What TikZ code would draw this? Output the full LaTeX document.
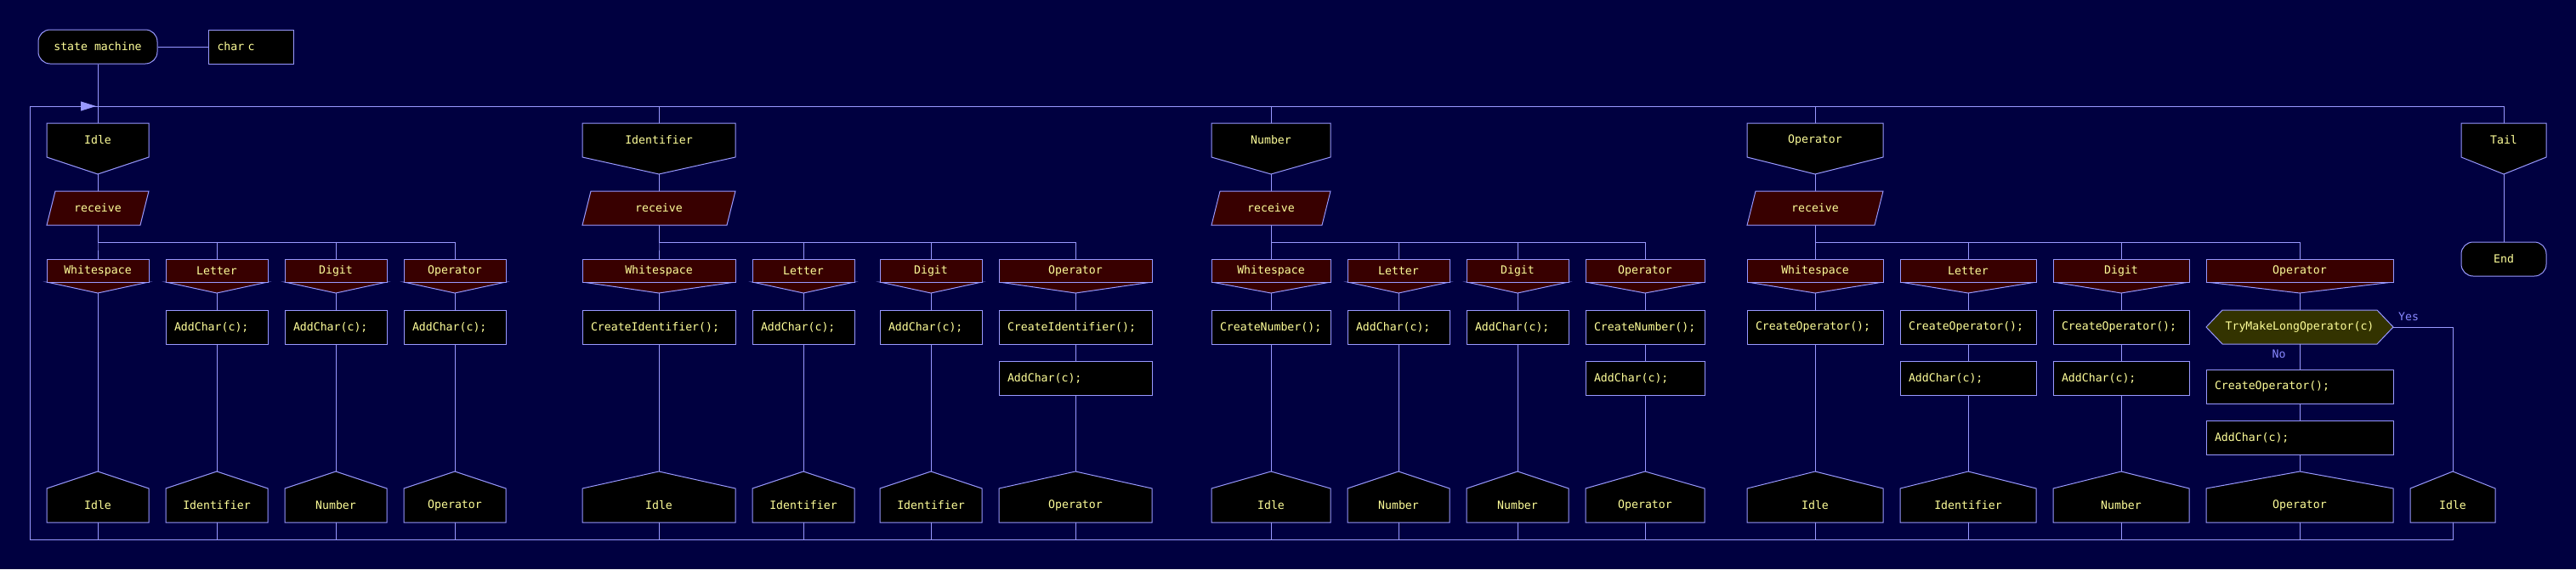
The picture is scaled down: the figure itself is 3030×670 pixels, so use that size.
\documentclass[tikz,border=0pt]{standalone}
\usepackage{fontspec}
\setmonofont{DejaVu Sans Mono}
\usetikzlibrary{calc,arrows.meta}
\definecolor{bgc}{HTML}{000040}
\definecolor{lnc}{HTML}{9999FF}
\definecolor{txc}{HTML}{FFFF99}
\definecolor{casec}{HTML}{380000}
\definecolor{hexc}{HTML}{333300}
\definecolor{lblc}{HTML}{8888FF}
\tikzset{
  conn/.style={draw=lnc, line width=1pt},
  shp/.style={draw=lnc, line width=1pt, fill=black},
  cshp/.style={draw=lnc, line width=1pt, fill=casec},
  hshp/.style={draw=lnc, line width=1pt, fill=hexc},
  txt/.style={font=\ttfamily\fontsize{13.2}{16}\selectfont, text=txc, inner sep=0pt, minimum height=40pt, anchor=center},
  actbox/.style={txt, draw=lnc, line width=1pt, fill=black, inner xsep=10pt, align=left},
  term/.style={txt, draw=lnc, line width=1pt, fill=black, rounded corners=14pt},
  lbl/.style={font=\ttfamily\fontsize{13.2}{16}\selectfont, text=lblc, inner sep=0pt},
}
\newcommand\StHead[4]{%
  \filldraw[shp] (#2-#3/2,145) -- (#2+#3/2,145) -- (#2+#3/2,185) -- (#2,205) -- (#2-#3/2,185) -- cycle;
  \node[txt, minimum width=#3] (#1) at (#2,165) {#4};
  \coordinate (#1-tip) at (#2,205);}
\newcommand\Recv[3]{%
  \filldraw[cshp] (#2-#3/2+10,225) -- (#2+#3/2,225) -- (#2+#3/2-10,265) -- (#2-#3/2,265) -- cycle;
  \node[txt, minimum width=#3] (#1) at (#2,245) {receive};}
\newcommand\Case[4]{%
  \filldraw[cshp] (#2-#3/2,332) -- (#2,345) -- (#2+#3/2,332) -- cycle;
  \filldraw[cshp] (#2-#3/2,305) rectangle (#2+#3/2,332);
  \node[txt, minimum width=#3, minimum height=27] (#1) at (#2,318.5) {#4};
  \coordinate (#1-tip) at (#2,345);}
\newcommand\Act[5]{%
  \pgfmathsetmacro\acttw{#4-20}%
  \node[actbox, text width=\acttw pt] (#1) at (#2,#3+20) {#5};}
\newcommand\StFoot[4]{%
  \filldraw[shp] (#2-#3/2,615) -- (#2-#3/2,575) -- (#2,555) -- (#2+#3/2,575) -- (#2+#3/2,615) -- cycle;
  \node[txt, minimum width=#3] (#1) at (#2,595) {#4};
  \coordinate (#1-tip) at (#2,555);}
\begin{document}
\begin{tikzpicture}[x=1pt, y=-1pt]
\useasboundingbox (0,0) rectangle (3030,670);
\fill[bgc] (0,0) rectangle (3030,670);
\coordinate (loopTL) at (35,125);
\coordinate (loopBL) at (35,635);
\coordinate (loopTR) at (2945,125);
% top
\node[term, minimum width=140] (sm) at (115,55) {state machine};
\node[actbox, text width=80pt] (cc) at (295.5,55) {char c};
% group Idle
\StHead{hI}{115}{120}{Idle}
\Recv{rI}{115}{120}
\Case{cI1}{115}{120}{Whitespace}
\Case{cI2}{255}{120}{Letter}
\Case{cI3}{395}{120}{Digit}
\Case{cI4}{535}{120}{Operator}
\Act{aI2}{255}{365}{120}{AddChar(c);}
\Act{aI3}{395}{365}{120}{AddChar(c);}
\Act{aI4}{535}{365}{120}{AddChar(c);}
\StFoot{fI1}{115}{120}{Idle}
\StFoot{fI2}{255}{120}{Identifier}
\StFoot{fI3}{395}{120}{Number}
\StFoot{fI4}{535}{120}{Operator}
% group Identifier
\StHead{hD}{775}{180}{Identifier}
\Recv{rD}{775}{180}
\Case{cD1}{775}{180}{Whitespace}
\Case{cD2}{945}{120}{Letter}
\Case{cD3}{1095}{120}{Digit}
\Case{cD4}{1265}{180}{Operator}
\Act{aD1}{775}{365}{180}{CreateIdentifier();}
\Act{aD2}{945}{365}{120}{AddChar(c);}
\Act{aD3}{1095}{365}{120}{AddChar(c);}
\Act{aD4}{1265}{365}{180}{CreateIdentifier();}
\Act{aD4b}{1265}{425}{180}{AddChar(c);}
\StFoot{fD1}{775}{180}{Idle}
\StFoot{fD2}{945}{120}{Identifier}
\StFoot{fD3}{1095}{120}{Identifier}
\StFoot{fD4}{1265}{180}{Operator}
% group Number
\StHead{hN}{1495}{140}{Number}
\Recv{rN}{1495}{140}
\Case{cN1}{1495}{140}{Whitespace}
\Case{cN2}{1645}{120}{Letter}
\Case{cN3}{1785}{120}{Digit}
\Case{cN4}{1935}{140}{Operator}
\Act{aN1}{1495}{365}{140}{CreateNumber();}
\Act{aN2}{1645}{365}{120}{AddChar(c);}
\Act{aN3}{1785}{365}{120}{AddChar(c);}
\Act{aN4}{1935}{365}{140}{CreateNumber();}
\Act{aN4b}{1935}{425}{140}{AddChar(c);}
\StFoot{fN1}{1495}{140}{Idle}
\StFoot{fN2}{1645}{120}{Number}
\StFoot{fN3}{1785}{120}{Number}
\StFoot{fN4}{1935}{140}{Operator}
% group Operator
\StHead{hO}{2135}{160}{Operator}
\Recv{rO}{2135}{160}
\Case{cO1}{2135}{160}{Whitespace}
\Case{cO2}{2315}{160}{Letter}
\Case{cO3}{2495}{160}{Digit}
\Case{cO4}{2705}{220}{Operator}
\Act{aO1}{2135}{365}{160}{CreateOperator();}
\Act{aO2}{2315}{365}{160}{CreateOperator();}
\Act{aO2b}{2315}{425}{160}{AddChar(c);}
\Act{aO3}{2495}{365}{160}{CreateOperator();}
\Act{aO3b}{2495}{425}{160}{AddChar(c);}
\filldraw[hshp] (2595,385) -- (2614,365) -- (2796,365) -- (2815,385) -- (2796,405) -- (2614,405) -- cycle;
\node[txt, minimum width=220] (hx) at (2705,385) {TryMakeLongOperator(c)};
\Act{aO4}{2705}{435}{220}{CreateOperator();}
\Act{aO4b}{2705}{495}{220}{AddChar(c);}
\StFoot{fO1}{2135}{160}{Idle}
\StFoot{fO2}{2315}{160}{Identifier}
\StFoot{fO3}{2495}{160}{Number}
\StFoot{fO4}{2705}{220}{Operator}
\StFoot{fO5}{2885}{100}{Idle}
\node[lbl] (yes) at (2833,373) {Yes};
\node[lbl] (no) at (2680.5,417) {No};
% tail
\StHead{hT}{2945}{100}{Tail}
\node[term, minimum width=100] (end) at (2945,305) {End};
% connectors
\draw[conn] (sm.east) -- (cc.west);
\draw[conn] (sm.south) -- (sm.south |- loopTL);
\draw[conn] (fO5.south) -- (fO5.south |- loopBL) -- (loopBL) -- (loopTL) -- (loopTR) -- (hT.north);
\draw[conn, -{Triangle[length=18pt, width=11pt]}] (loopTL) -- ([xshift=-2pt]sm.south |- loopTL);
\foreach \h in {hI,hD,hN,hO} \draw[conn] (\h.north |- loopTL) -- (\h.north);
\foreach \f in {fI1,fI2,fI3,fI4,fD1,fD2,fD3,fD4,fN1,fN2,fN3,fN4,fO1,fO2,fO3,fO4}
  \draw[conn] (\f.south) -- (\f.south |- loopBL);
\draw[conn] (hI-tip) -- (rI.north);
\draw[conn] (hD-tip) -- (rD.north);
\draw[conn] (hN-tip) -- (rN.north);
\draw[conn] (hO-tip) -- (rO.north);
\draw[conn] (hT-tip) -- (end.north);
\foreach \c in {cI1,cI2,cI3,cI4} \draw[conn] (rI.south) -- ++(0,20) -| (\c.north);
\foreach \c in {cD1,cD2,cD3,cD4} \draw[conn] (rD.south) -- ++(0,20) -| (\c.north);
\foreach \c in {cN1,cN2,cN3,cN4} \draw[conn] (rN.south) -- ++(0,20) -| (\c.north);
\foreach \c in {cO1,cO2,cO3,cO4} \draw[conn] (rO.south) -- ++(0,20) -| (\c.north);
% Idle group chains
\draw[conn] (cI1-tip) -- (fI1-tip);
\draw[conn] (cI2-tip) -- (aI2.north);
\draw[conn] (aI2.south) -- (fI2-tip);
\draw[conn] (cI3-tip) -- (aI3.north);
\draw[conn] (aI3.south) -- (fI3-tip);
\draw[conn] (cI4-tip) -- (aI4.north);
\draw[conn] (aI4.south) -- (fI4-tip);
% Identifier group chains
\draw[conn] (cD1-tip) -- (aD1.north);
\draw[conn] (aD1.south) -- (fD1-tip);
\draw[conn] (cD2-tip) -- (aD2.north);
\draw[conn] (aD2.south) -- (fD2-tip);
\draw[conn] (cD3-tip) -- (aD3.north);
\draw[conn] (aD3.south) -- (fD3-tip);
\draw[conn] (cD4-tip) -- (aD4.north);
\draw[conn] (aD4.south) -- (aD4b.north);
\draw[conn] (aD4b.south) -- (fD4-tip);
% Number group chains
\draw[conn] (cN1-tip) -- (aN1.north);
\draw[conn] (aN1.south) -- (fN1-tip);
\draw[conn] (cN2-tip) -- (aN2.north);
\draw[conn] (aN2.south) -- (fN2-tip);
\draw[conn] (cN3-tip) -- (aN3.north);
\draw[conn] (aN3.south) -- (fN3-tip);
\draw[conn] (cN4-tip) -- (aN4.north);
\draw[conn] (aN4.south) -- (aN4b.north);
\draw[conn] (aN4b.south) -- (fN4-tip);
% Operator group chains
\draw[conn] (cO1-tip) -- (aO1.north);
\draw[conn] (aO1.south) -- (fO1-tip);
\draw[conn] (cO2-tip) -- (aO2.north);
\draw[conn] (aO2.south) -- (aO2b.north);
\draw[conn] (aO2b.south) -- (fO2-tip);
\draw[conn] (cO3-tip) -- (aO3.north);
\draw[conn] (aO3.south) -- (aO3b.north);
\draw[conn] (aO3b.south) -- (fO3-tip);
\draw[conn] (cO4-tip) -- (hx.north);
\draw[conn] (hx.south) -- (aO4.north);
\draw[conn] (aO4.south) -- (aO4b.north);
\draw[conn] (aO4b.south) -- (fO4-tip);
\draw[conn] (hx.east) -| (fO5-tip);
\end{tikzpicture}
\end{document}
